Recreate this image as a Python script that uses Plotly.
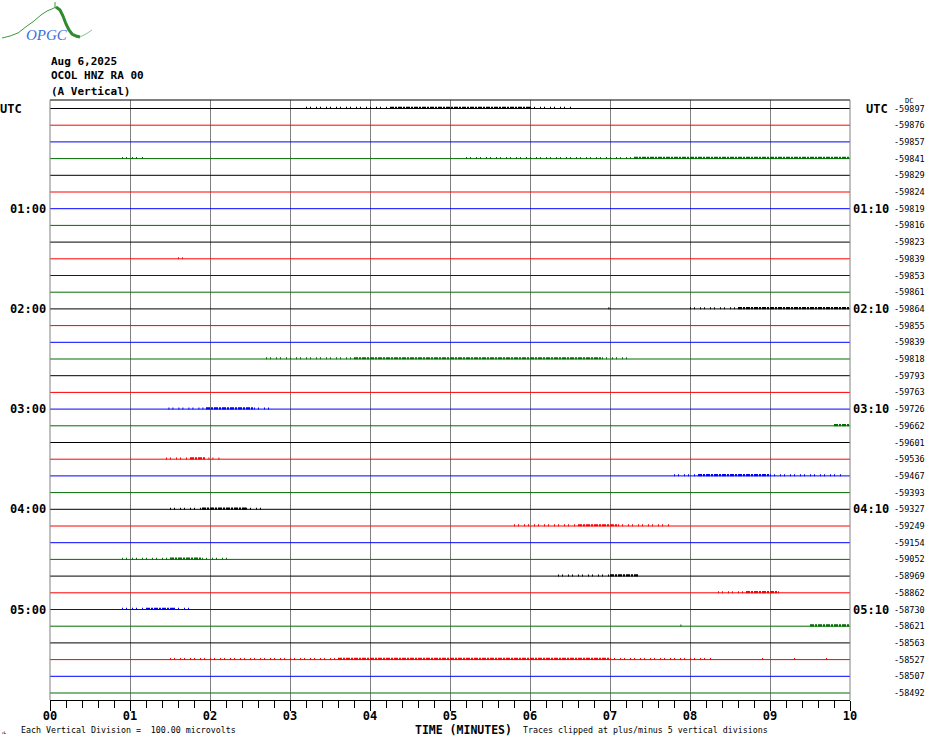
import plotly.graph_objects as go

# ---------------- data ----------------
trace_colors_cycle = ["#000000", "#ff0000", "#0000ff", "#006e00"]
dc_values = [-59897, -59876, -59857, -59841, -59829, -59824, -59819, -59816,
             -59823, -59839, -59853, -59861, -59864, -59855, -59839, -59818,
             -59793, -59763, -59726, -59662, -59601, -59536, -59467, -59393,
             -59327, -59249, -59154, -59052, -58969, -58862, -58730, -58621,
             -58563, -58527, -58507, -58492]
hour_left_labels = ["UTC", "01:00", "02:00", "03:00", "04:00", "05:00"]
hour_right_labels = ["UTC", "01:10", "02:10", "03:10", "04:10", "05:10"]
minute_ticks = [0, 1, 2, 3, 4, 5, 6, 7, 8, 9, 10]
minute_labels = ["00", "01", "02", "03", "04", "05", "06", "07", "08", "09", "10"]

# signal bursts: trace index, start minute, end minute, kind (s=sparse, d=dense)
burst_trace = [0, 0, 0, 3, 3, 3, 9, 12, 12, 12, 15, 15, 15, 18, 18, 18, 19,
               21, 21, 21, 22, 22, 22, 24, 24, 24, 25, 25, 25, 27, 27, 27,
               28, 28, 29, 29, 29, 30, 30, 30, 31, 31,
               33, 33, 33, 33, 33, 33]
burst_start = [3.2, 4.25, 6.0, 0.9, 5.2, 7.3, 1.6, 6.98, 8.0, 8.6, 2.7, 3.8, 6.9,
               1.48, 1.95, 2.55, 9.8, 1.45, 1.75, 1.98, 7.8, 8.1, 9.0,
               1.5, 1.9, 2.45, 5.8, 6.6, 7.1, 0.9, 1.5, 1.9,
               6.35, 7.0, 8.35, 8.7, 9.1, 0.9, 1.2, 1.55, 7.88, 9.5,
               1.5, 3.6, 7.0, 8.9, 9.3, 9.7]
burst_end = [4.25, 6.0, 6.55, 1.2, 7.3, 10.0, 1.66, 7.03, 8.6, 10.0, 3.8, 6.9, 7.25,
             1.95, 2.55, 2.8, 10.0, 1.75, 1.95, 2.12, 8.1, 9.0, 9.9,
             1.9, 2.45, 2.7, 6.6, 7.1, 7.75, 1.5, 1.9, 2.25,
             7.0, 7.35, 8.7, 9.1, 9.15, 1.2, 1.55, 1.75, 7.92, 10.0,
             3.6, 7.0, 8.3, 8.95, 9.35, 9.75]
burst_kind = ["s", "d", "s", "s", "s", "d", "s", "s", "s", "d", "s", "d", "s",
              "s", "d", "s", "d", "s", "d", "s", "s", "d", "s",
              "s", "d", "s", "s", "d", "s", "s", "d", "s",
              "s", "d", "s", "d", "s", "s", "d", "s", "s", "d",
              "s", "d", "s", "s", "s", "s"]

# ---------------- figure ----------------
W, H = 930, 744
ML, MR, MT, MB = 50, 80, 100, 44
SPACING = 16.7
TRACE0_PX = 108.5
y_top = (MT - TRACE0_PX) / SPACING
y_bot = (H - MB - TRACE0_PX) / SPACING


def px_x(px):
    return (px - ML) / (W - ML - MR)


def px_y(py):
    return (H - MB - py) / (H - MT - MB)


fig = go.Figure()
n_traces = len(dc_values)
for i in range(n_traces):
    fig.add_trace(go.Scatter(x=[0, 10], y=[i, i], mode="lines",
                             line=dict(color=trace_colors_cycle[i % 4], width=1),
                             hoverinfo="skip", showlegend=False))

for t, s, e, k in zip(burst_trace, burst_start, burst_end, burst_kind):
    col = trace_colors_cycle[t % 4]
    if k == "d":
        line = dict(color=col, width=2.2, dash="4px,1px,2px,1px")
        off = 0.045
    else:
        line = dict(color=col, width=2, dash="1px,3px,1px,5px")
        off = 0.04
    fig.add_trace(go.Scatter(x=[s, e], y=[t - off, t - off], mode="lines",
                             line=line, hoverinfo="skip", showlegend=False))

mono = "DejaVu Sans Mono"
ann = []
# header
for j, txt in enumerate(["Aug 6,2025", "OCOL HNZ RA 00", "(A Vertical)"]):
    ann.append(dict(x=0, y=px_y(61 + 15 * j), xref="paper", yref="paper",
                    text="<b>%s</b>" % txt, showarrow=False, xanchor="left",
                    yanchor="middle", xshift=-1,
                    font=dict(family=mono, size=11, color="black")))
# hour labels
for j, (ll, rl) in enumerate(zip(hour_left_labels, hour_right_labels)):
    ti = 6 * j
    ann.append(dict(x=0, y=ti, xref="paper", yref="y", text="<b>%s</b>" % ll,
                    showarrow=False, xanchor="right", yanchor="middle",
                    xshift=(-26 if ll == "UTC" else -2),
                    font=dict(family=mono, size=12, color="black")))
    ann.append(dict(x=1, y=ti, xref="paper", yref="y", text="<b>%s</b>" % rl,
                    showarrow=False, xanchor="left",  yanchor="middle",
                    xshift=(14 if rl == "UTC" else 1),
                    font=dict(family=mono, size=12, color="black")))
# DC values
for i, v in enumerate(dc_values):
    ann.append(dict(x=1, y=i, xref="paper", yref="y", text=str(v),
                    showarrow=False, xanchor="left", yanchor="middle", xshift=42,
                    font=dict(family=mono, size=8.5, color="black")))
ann.append(dict(x=px_x(909), y=px_y(101), xref="paper", yref="paper", text="DC",
                showarrow=False, xanchor="center", yanchor="middle",
                font=dict(family=mono, size=7, color="black")))
# bottom texts
ann.append(dict(x=px_x(413), y=px_y(730), xref="paper", yref="paper",
                text="<b>TIME (MINUTES)</b>", showarrow=False, xanchor="left",
                yanchor="middle", font=dict(family=mono, size=11.5, color="black")))
ann.append(dict(x=px_x(521), y=px_y(730), xref="paper", yref="paper",
                text="Traces clipped at plus/minus 5 vertical divisions",
                showarrow=False, xanchor="left", yanchor="middle",
                font=dict(family=mono, size=8.3, color="black")))
ann.append(dict(x=px_x(19), y=px_y(730), xref="paper", yref="paper",
                text="Each Vertical Division =&nbsp; 100.00 microvolts",
                showarrow=False, xanchor="left", yanchor="middle",
                font=dict(family=mono, size=8.3, color="black")))
ann.append(dict(x=px_x(4), y=px_y(732), xref="paper", yref="paper",
                text="ᴊʟ", showarrow=False, xanchor="center", yanchor="middle",
                font=dict(family=mono, size=5, color="black")))
# logo text
ann.append(dict(x=px_x(47), y=px_y(35), xref="paper", yref="paper",
                text="<i>OPGC</i>", showarrow=False, xanchor="center",
                yanchor="middle",
                font=dict(family="Liberation Serif", size=15, color="#3a6fd8")))

shapes = []
# top border
shapes.append(dict(type="line", xref="paper", yref="paper", x0=0, x1=1,
                   y0=1, y1=1, line=dict(color="black", width=1)))
# side gray borders
for xv in (0, 1):
    shapes.append(dict(type="line", xref="paper", yref="paper", x0=xv, x1=xv,
                       y0=0, y1=1, line=dict(color="#808080", width=1)))


def path(points):
    return "M " + " L ".join("%.5f,%.5f" % (px_x(a), px_y(b)) for a, b in points)


shapes.append(dict(type="path", xref="paper", yref="paper",
                   path=path([(2, 38), (10, 36), (18, 33), (27, 26), (34, 21),
                              (41, 15), (47, 11), (52, 9), (56, 7)]),
                   line=dict(color="#3c9a3c", width=1)))
shapes.append(dict(type="path", xref="paper", yref="paper",
                   path=path([(56, 7), (60, 10), (63, 16), (66, 24), (69, 30),
                              (72, 34), (76, 36), (80, 37)]),
                   line=dict(color="#2e8b2e", width=3)))
shapes.append(dict(type="path", xref="paper", yref="paper",
                   path=path([(80, 37), (86, 34), (92, 30)]),
                   line=dict(color="#88c488", width=1)))
shapes.append(dict(type="line", xref="paper", yref="paper",
                   x0=px_x(55), x1=px_x(55), y0=px_y(2), y1=px_y(8),
                   line=dict(color="#3c9a3c", width=1)))

fig.update_layout(
    width=W, height=H,
    margin=dict(l=ML, r=MR, t=MT, b=MB, pad=0),
    paper_bgcolor="white", plot_bgcolor="white",
    showlegend=False,
    annotations=ann, shapes=shapes,
    xaxis=dict(range=[0, 10], tickvals=minute_ticks, ticktext=minute_labels,
               showgrid=True, gridcolor="#808080", gridwidth=1,
               zeroline=False, showline=True, linecolor="black", linewidth=1,
               ticks="outside", ticklen=10, tickcolor="black", tickwidth=1,
               ticklabelstandoff=-5,
               tickfont=dict(family=mono, size=12, color="black", weight="bold"),
               minor=dict(tickmode="linear", tick0=0, dtick=0.2, ticks="outside",
                          ticklen=7, tickcolor="black", showgrid=False),
               fixedrange=True),
    yaxis=dict(range=[y_bot, y_top], showgrid=False, zeroline=False,
               showticklabels=False, ticks="", showline=False, fixedrange=True),
)

fig.write_html(
    "out.html",
    config={"displayModeBar": False},
    post_script="document.body.style.margin='0';document.body.style.overflow='hidden';",
)
